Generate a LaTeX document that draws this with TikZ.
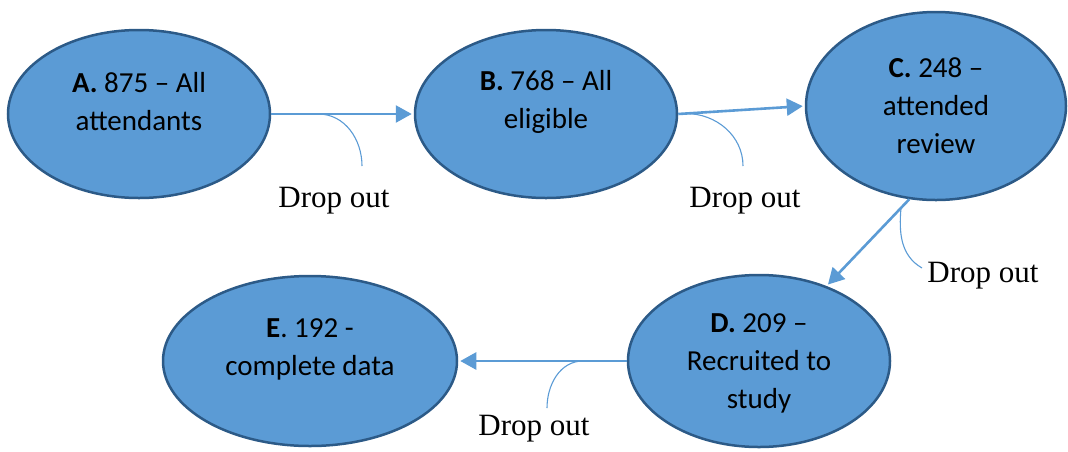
\documentclass[tikz,border=0pt]{standalone}
\usepackage{fontspec}
\setmainfont{Liberation Serif}
\newfontfamily\calfont{Carlito}
\usepackage{tikz}
\usepackage{xcolor}
\usetikzlibrary{shapes.geometric,arrows.meta,positioning,calc}

\definecolor{stagefill}{HTML}{5B9BD5}
\definecolor{stageedge}{HTML}{2C5A87}

\begin{document}
\begin{tikzpicture}
[x=1pt,y=1pt,
      stage/.style={ellipse,draw=stageedge,fill=stagefill,line width=2.5pt,
      inner sep=0pt},
      stagetext/.style={align=center,font=\calfont\fontsize{29}{38}\selectfont},
      flow/.style={draw=stagefill,line width=2.6pt,shorten >=2pt,
      -{Triangle[length=16pt,width=17pt]}},
      leak/.style={draw=stagefill,line width=1.1pt},
      drop/.style={font=\fontsize{31}{36}\selectfont}]
 \useasboundingbox (0,0) rectangle (1068,-451);
 % the five stages
 \node[stage,minimum width=262,minimum height=168] (A) at (139,-114) {};
 \node[stage,minimum width=262,minimum height=168] (B) at (546,-114) {};
 \node[stage,minimum width=260,minimum height=188] (C) at (936,-106) {};
 \node[stage,minimum width=262,minimum height=172] (D) at (759,-361) {};
 \node[stage,minimum width=294,minimum height=170] (E) at (310,-361) {};
 \node[stagetext] (tA) at ([yshift=12]A.center) {\textbf{A.} 875 – All\\attendants};
 \node[stagetext] (tB) at ([yshift=12]B.center) {\textbf{B.} 768 – All\\eligible};
 \node[stagetext] (tC) at (C.center) {\textbf{C.} 248 –\\attended\\review};
 \node[stagetext] (tD) at ([yshift=-2]D.center) {\textbf{D.} 209 –\\Recruited to\\study};
 \node[stagetext] (tE) at ([yshift=12]E.center) {\textbf{E}. 192 -\\complete data};
 % main flow
 \draw[flow] (A.east) -- (B.west);
 \draw[flow] (B.east) -- (C.west);
 \draw[flow] (C.254) -- (D.48);
 \draw[flow] (D.west) -- (E.east);
 % drop outs
 \coordinate (eA) at (362,-166);
 \coordinate (eB) at (743,-166);
 \coordinate (eC) at (922,-268);
 \coordinate (eD) at (547,-408);
 \draw[leak] ($(A.east)!0.33!(B.west)$) to[out=0,in=90] (eA);
 \draw[leak] ($(B.east)!0.06!(C.west)$) to[out=0,in=90] (eB);
 \draw[leak] ($(C.254)!0.1!(D.48)$) to[out=265,in=150] (eC);
 \draw[leak] ($(D.west)!0.26!(E.east)$) to[out=180,in=90] (eD);
 \node[drop] (dA) at (334,-201) {Drop out};
 \node[drop] (dB) at (745,-201) {Drop out};
 \node[drop] (dC) at (983,-276) {Drop out};
 \node[drop] (dD) at (534,-429) {Drop out};
\end{tikzpicture}
\end{document}
